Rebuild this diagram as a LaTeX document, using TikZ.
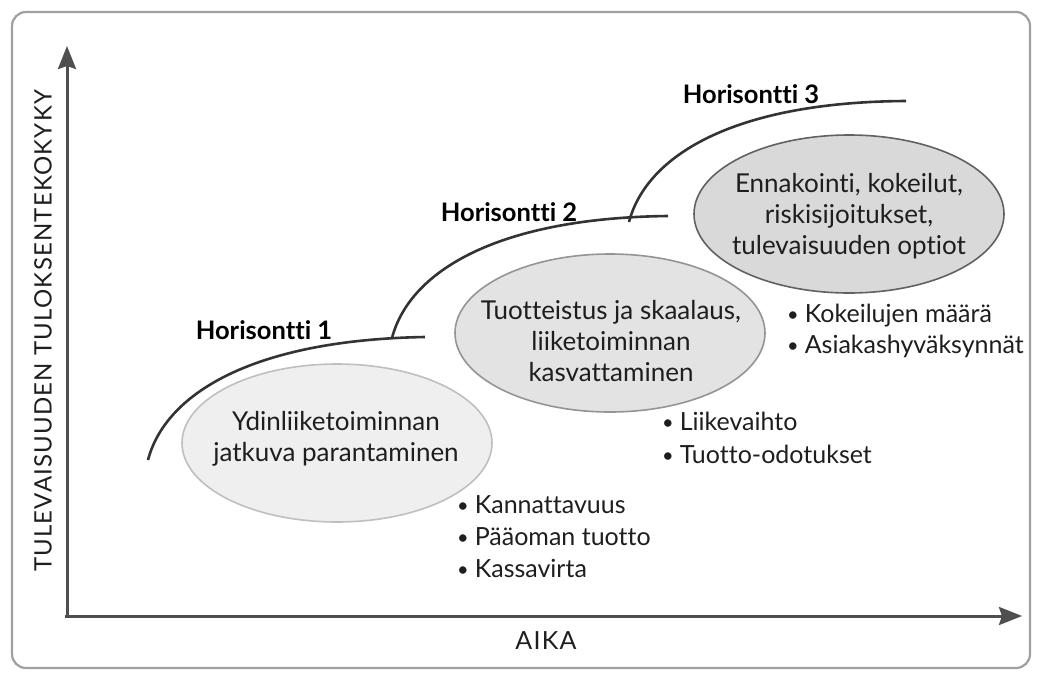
\documentclass[tikz,border=0pt]{standalone}
\usepackage{fontspec}
\setmainfont{Lato}[Ligatures={NoCommon,NoRare,NoContextual}]
\usetikzlibrary{arrows.meta,shapes.geometric}
\definecolor{framegray}{HTML}{A0A0A0}
\definecolor{axisgray}{HTML}{4F4F4F}
\definecolor{curvegray}{HTML}{333333}
\definecolor{txt}{HTML}{1E1E1E}
\definecolor{fillA}{HTML}{EFEFEF}
\definecolor{fillB}{HTML}{E3E3E3}
\definecolor{fillC}{HTML}{D9D9D9}
\tikzset{
  axis/.style={draw=axisgray, line width=3pt, -{Stealth[length=23pt,width=18pt,inset=3pt]}},
  hcurve/.style={draw=curvegray, line width=2.6pt},
  zone/.style={ellipse, minimum width=310pt, minimum height=158pt, line width=1.6pt},
  zonetext/.style={align=center, text=txt, font=\fontsize{26}{31}\selectfont},
  htitle/.style={text=black, font=\fontsize{25.5}{28}\selectfont\bfseries},
  bullet/.style={anchor=base west, text=txt, font=\fontsize{25}{30}\selectfont, inner sep=0pt},
  axlabel/.style={text=txt, font=\fontsize{24}{28}\selectfont\addfontfeature{LetterSpace=5}},
}
\newcommand{\bul}{\raisebox{1pt}{\scalebox{0.8}{•}}\hspace{6pt}}
\begin{document}
\begin{tikzpicture}[x=1pt,y=-1pt]
\useasboundingbox (0,0) rectangle (1039,675);
% frame
\draw[framegray, line width=2.2pt, rounded corners=14pt] (12,12) rectangle (1030,668);
% axes
\coordinate (origin) at (65,616);
\coordinate (ytip) at (67,46);
\coordinate (xtip) at (1022,616);
\draw[axis] (67,618) -- (ytip);
\draw[axis] (origin) -- (xtip);
\node[axlabel, rotate=90] (ylab) at (43,331) {TULEVAISUUDEN TULOKSENTEKOKYKY};
\node[axlabel, font=\fontsize{25}{28}\selectfont\addfontfeature{LetterSpace=5}] (xlab) at (546,641) {AIKA};
% ellipses
\node[zone, fill=fillA, draw=black!25] (e1) at (337,443) {};
\node[zone, fill=fillB, draw=black!42] (e2) at (610,333) {};
\node[zone, fill=fillC, draw=black!62] (e3) at (849,214) {};
\node[zonetext] (t1) at (336,439) {Ydinliiketoiminnan\\jatkuva parantaminen};
\node[zonetext] (t2) at (611,341) {Tuotteistus ja skaalaus,\\liiketoiminnan\\kasvattaminen};
\node[zonetext] (t3) at (849,216) {Ennakointi, kokeilut,\\riskisijoitukset,\\tulevaisuuden optiot};
% horizon curves
\draw[hcurve] (148,460) .. controls (165,395) and (250,340) .. (425,337);
\draw[hcurve] (392,338) .. controls (409,273) and (494,218) .. (668,216);
\draw[hcurve] (629,222) .. controls (646,157) and (731,102) .. (906,101);
\node[htitle] (h1) at (264,330) {Horisontti 1};
\node[htitle] (h2) at (509,212) {Horisontti 2};
\node[htitle] (h3) at (751,94) {Horisontti 3};
% bullet lists
\node[bullet] (b1a) at (457,513) {\bul Kannattavuus};
\node[bullet] (b1b) at (457,545) {\bul Pääoman tuotto};
\node[bullet] (b1c) at (457,577) {\bul Kassavirta};
\node[bullet] (b2a) at (662,430) {\bul Liikevaihto};
\node[bullet] (b2b) at (662,463) {\bul Tuotto-odotukset};
\node[bullet] (b3a) at (787,322) {\bul Kokeilujen määrä};
\node[bullet] (b3b) at (787,353) {\bul Asiakashyväksynnät};
\end{tikzpicture}
\end{document}
